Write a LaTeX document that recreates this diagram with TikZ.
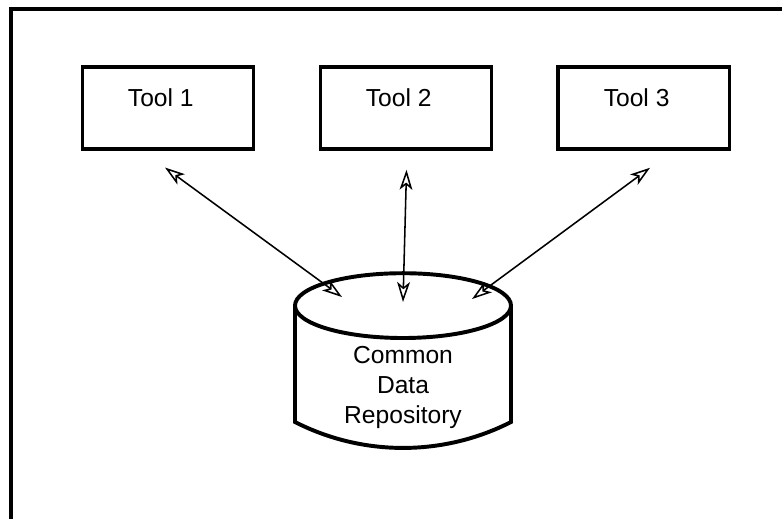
\documentclass[tikz,border=0pt]{standalone}
\usepackage{fontspec}
\setmainfont{Liberation Sans}
\usetikzlibrary{positioning,calc,arrows.meta}

\begin{document}
\begin{tikzpicture}[
    every node/.style={font=\fontsize{17.5}{21.3}\selectfont},
    frame/.style={line width=2.8pt},
    toolbox/.style={draw, line width=2.5pt, minimum width=4.28cm, minimum height=2.04cm, inner sep=0pt},
    dbline/.style={line width=2.8pt},
    link/.style={line width=1.1pt, {Stealth[open,length=0.5cm,width=0.32cm,inset=0.13cm]}-{Stealth[open,length=0.5cm,width=0.32cm,inset=0.13cm]}}
]
\useasboundingbox (0,0) rectangle (19.55,-12.95);
\clip (0,0) rectangle (19.55,-12.95);
\draw[frame] (0.28,-0.23) rectangle (25,-15);

% tools
\node[toolbox] (tool1) at (4.2,-2.7) {};
\node[toolbox, right=1.58cm of tool1] (tool2) {};
\node[toolbox, right=1.58cm of tool2] (tool3) {};
\node (label1) at ($(tool1)+(-0.18,0.27)$) {Tool 1};
\node (label2) at ($(tool2)+(-0.18,0.27)$) {Tool 2};
\node (label3) at ($(tool3)+(-0.18,0.27)$) {Tool 3};

% repository
\coordinate (dbtop) at (10.075,-7.64);
\draw[dbline] (dbtop) ellipse [x radius=2.7cm, y radius=0.81cm];
\draw[dbline] ($(dbtop)+(-2.7,0)$) -- ++(0,-2.91) arc[start angle=243, end angle=297, radius=5.947] -- ($(dbtop)+(2.7,0)$);
\node[align=center] (repo) at ($(dbtop)+(0,-2.05)$) {Common\\Data\\Repository};

\coordinate (start1) at ($(tool1.south)+(-0.075,-0.425)$);
\coordinate (start2) at ($(tool2.south)+(0.015,-0.48)$);
\coordinate (start3) at ($(tool3.south)+(0.155,-0.43)$);
\coordinate (end1) at ($(dbtop)+(-1.525,0.215)$);
\coordinate (end2) at ($(dbtop)+(0,0.09)$);
\coordinate (end3) at ($(dbtop)+(1.725,0.165)$);

\draw[link] (start1) -- (end1);
\draw[link] (start2) -- (end2);
\draw[link] (start3) -- (end3);

\end{tikzpicture}
\end{document}
